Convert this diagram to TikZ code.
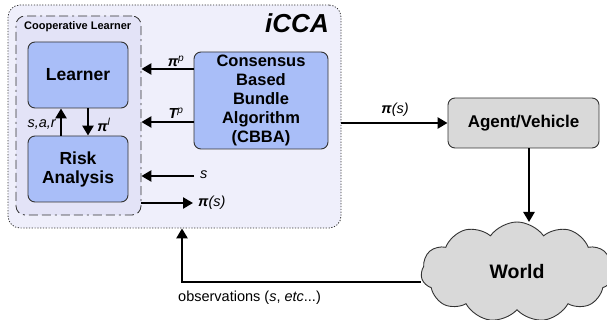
\documentclass[tikz,border=0pt]{standalone}
\usepackage{fontspec}
\setmainfont{Liberation Sans}
\usetikzlibrary{arrows.meta,shapes.symbols}
\definecolor{outerfill}{HTML}{EFEFFB}
\definecolor{coopfill}{HTML}{E3E3F7}
\definecolor{bluefill}{HTML}{A9BEF8}
\definecolor{grayfill}{HTML}{D9D9D9}
\definecolor{edge}{HTML}{333333}
\newcommand{\pib}{\textbf{\textit{π}}}
\tikzset{
  bluebox/.style={draw=edge, line width=0.9pt, fill=bluefill, rounded corners=7pt, inner sep=0pt,
    align=center, font=\bfseries\fontsize{17.5}{19}\selectfont},
  arr/.style={line width=2.6pt, -{Triangle[length=10pt,width=11pt]}},
  lbl/.style={font=\fontsize{14.5}{16}\selectfont, inner sep=1pt},
}
\begin{document}
\begin{tikzpicture}[x=1pt,y=-1pt]
\useasboundingbox (0,0) rectangle (607,320);
% outer iCCA
\node (outer) [draw=edge, line width=0.8pt, dash pattern=on 1.2pt off 1.6pt, fill=outerfill, rounded corners=12pt,
  minimum width=333pt, minimum height=223pt, inner sep=0pt] at (174.5,116.5) {};
\node (title) [font=\bfseries\itshape\fontsize{26}{28}\selectfont, anchor=base] at (297,33) {iCCA};
% cooperative learner
\node (coop) [draw=edge, line width=0.8pt, dash pattern=on 9pt off 4pt on 9pt off 4pt on 2pt off 4pt,
  fill=coopfill, rounded corners=9pt, minimum width=125pt, minimum height=199pt, inner sep=0pt] at (78.5,115.5) {};
\node (cooplbl) [font=\bfseries\fontsize{11}{12}\selectfont, anchor=base west, inner sep=0pt] at (24,30) {Cooperative Learner};
\node (learner) [bluebox, minimum width=100pt, minimum height=66pt] at (78,75) {Learner};
\node (risk) [bluebox, minimum width=100pt, minimum height=66pt] at (78,169) {Risk\\Analysis};
\node (cbba) [bluebox, minimum width=134pt, minimum height=97pt, font=\bfseries\fontsize{16.5}{19}\selectfont] at (261,100.5)
  {Consensus\\Based\\Bundle\\Algorithm\\(CBBA)};
\node (agent) [draw=edge, line width=0.9pt, fill=grayfill, rounded corners=7pt, minimum width=151pt, minimum height=50pt,
  inner sep=0pt, font=\bfseries\fontsize{17}{19}\selectfont] at (523.5,123) {Agent/Vehicle};
\node (world) [cloud, cloud puffs=11, cloud puff arc=110, aspect=2, draw=edge, line width=0.9pt, fill=grayfill,
  minimum width=192pt, minimum height=100pt, inner sep=0pt, font=\bfseries\fontsize{19.5}{21}\selectfont] at (517,272) {World};
% helper coordinates
\coordinate (yp) at (0,69);
\coordinate (yt) at (0,122);
\coordinate (ys) at (0,176);
\coordinate (ypi) at (0,203);
\coordinate (sfrom) at (194,176);
\coordinate (pito) at (193,203);
\coordinate (xup) at (61,0);
\coordinate (xdn) at (88,0);
\coordinate (xag) at (529,0);
\coordinate (wtop) at (529,222);
\coordinate (xobs) at (182,0);
\coordinate (yobs) at (0,282);
% arrows
\draw[arr] (cbba.west |- yp) -- (coop.east |- yp);
\node[lbl, font=\bfseries\itshape\fontsize{14.5}{16}\selectfont] at (176,61) {π\textsuperscript{\mdseries p}};
\draw[arr] (cbba.west |- yt) -- (coop.east |- yt);
\node[lbl, font=\bfseries\itshape\fontsize{14.5}{16}\selectfont] at (176,113) {T\textsuperscript{\mdseries p}};
\draw[arr] (sfrom) -- (coop.east |- ys);
\node[lbl, font=\itshape\fontsize{14.5}{16}\selectfont, anchor=west] at (199,175) {s};
\draw[arr] (coop.east |- ypi) -- (pito);
\node[lbl, anchor=west] at (197,203) {\pib\textit{(s)}};
\draw[arr] (risk.north -| xup) -- (learner.south -| xup);
\node[lbl, font=\itshape\fontsize{14.5}{16}\selectfont, anchor=east] at (57,125) {s,a,r};
\draw[arr] (learner.south -| xdn) -- (risk.north -| xdn);
\node[lbl] at (104,125) {\pib\textsuperscript{\textit{l}}};
\draw[arr] (outer.east |- agent.west) -- (agent.west);
\node[lbl] at (395,110) {\pib\textit{(s)}};
\draw[arr] (agent.south -| xag) -- (wtop);
\draw[arr] (world.west |- yobs) -- (xobs |- yobs) -- (outer.south -| xobs);
\node[lbl, anchor=base west] at (177,301) {observations (\textit{s}, \textit{etc}...)};
\end{tikzpicture}
\end{document}
